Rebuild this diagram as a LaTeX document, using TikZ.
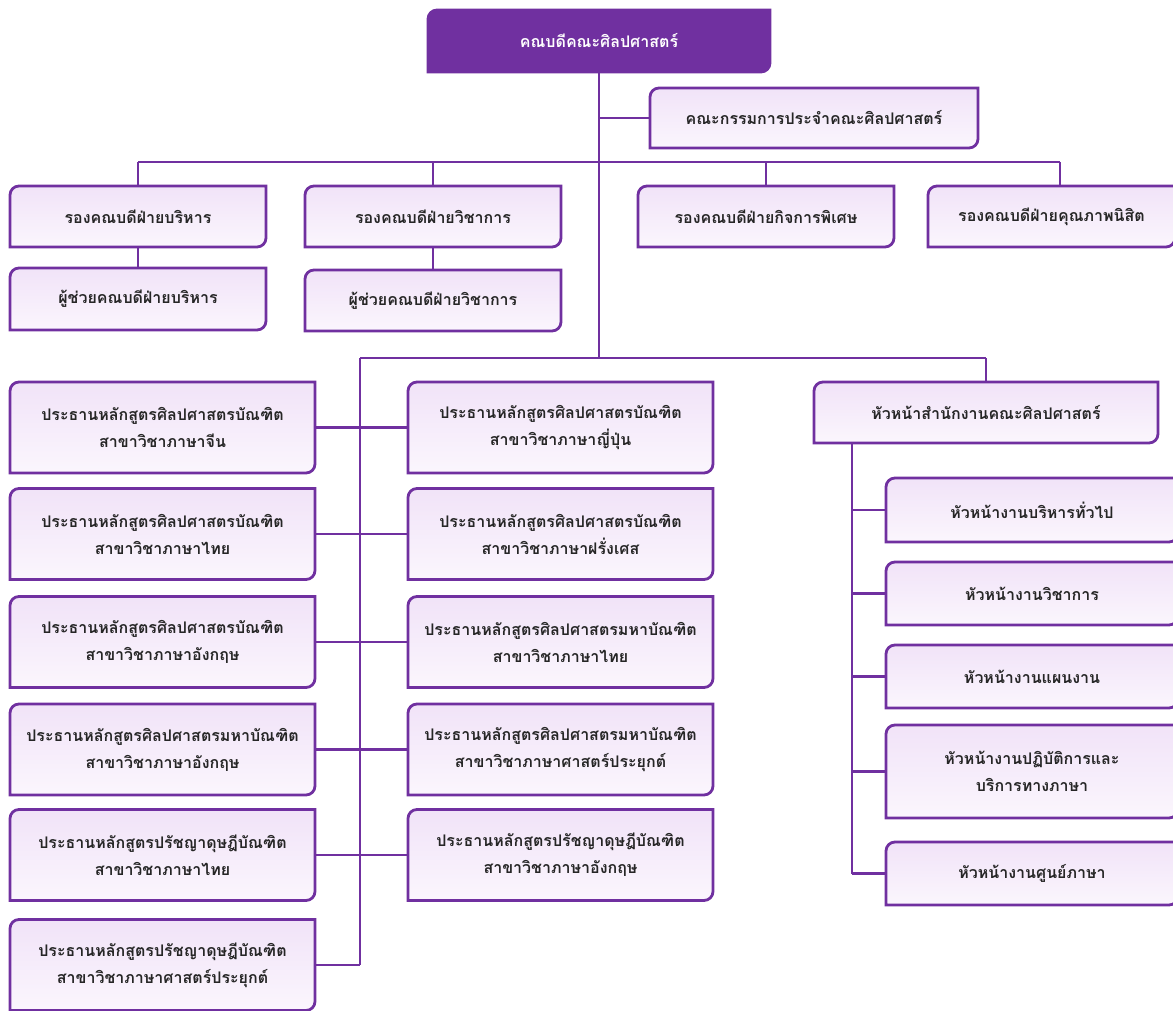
\documentclass[tikz,border=0pt]{standalone}
\usepackage{fontspec}
\setmainfont{Loma}[Script=Thai]
\usetikzlibrary{backgrounds}
\definecolor{orgpurple}{HTML}{7030A0}
\definecolor{boxtop}{HTML}{F1E3F8}
\definecolor{boxbot}{HTML}{FBF6FD}
\definecolor{boxtext}{HTML}{262626}

\begin{document}
\begin{tikzpicture}[x=1pt, y=-1pt]
      \tikzstyle{every node}=[rectangle, inner sep=2pt, outer sep=0pt, align=center,
        text=boxtext, font=\bfseries\fontsize{16}{27}\selectfont]
      \tikzstyle{link}=[draw=orgpurple, line width=2.6pt]
      \tikzstyle{frame}=[draw=orgpurple, line width=2.8pt, top color=boxtop, bottom color=boxbot]
      \useasboundingbox (0,0) rectangle (1173,1011);

      % dean and committee
      \path (599, 41) node[minimum width=342pt, minimum height=62pt, text=white] (dean) {คณบดีคณะศิลปศาสตร์};
      \path (814, 118) node[minimum width=328pt, minimum height=60pt] (board) {คณะกรรมการประจำคณะศิลปศาสตร์};

      % deputy deans
      \foreach \n/\x/\w/\t in {vpadm/138/256/บริหาร, vpaca/433/256/วิชาการ,
                               vpspc/766/256/กิจการพิเศษ, vpqua/1051.5/247/คุณภาพนิสิต}
      {
        \path (\x, 216.5) node[minimum width=\w pt, minimum height=61pt] (\n) {รองคณบดีฝ่าย\t};
      }
      \path (138, 299) node[minimum width=256pt, minimum height=62pt] (asadm) {ผู้ช่วยคณบดีฝ่ายบริหาร};
      \path (433, 300.5) node[minimum width=256pt, minimum height=61pt] (asaca) {ผู้ช่วยคณบดีฝ่ายวิชาการ};

      % programme chairs
      \foreach \i/\y/\d/\f in {1/427.5/ศิลปศาสตรบัณฑิต/ภาษาจีน, 2/534/ศิลปศาสตรบัณฑิต/ภาษาไทย,
                               3/642/ศิลปศาสตรบัณฑิต/ภาษาอังกฤษ, 4/749.5/ศิลปศาสตรมหาบัณฑิต/ภาษาอังกฤษ,
                               5/855/ปรัชญาดุษฎีบัณฑิต/ภาษาไทย, 6/965/ปรัชญาดุษฎีบัณฑิต/ภาษาศาสตร์ประยุกต์}
      {
        \path (162.5, \y) node[minimum width=305pt, minimum height=91pt] (l\i) {ประธานหลักสูตร\d\\สาขาวิชา\f};
      }
      \foreach \i/\y/\d/\f in {1/427.5/ศิลปศาสตรบัณฑิต/ภาษาญี่ปุ่น, 2/534/ศิลปศาสตรบัณฑิต/ภาษาฝรั่งเศส,
                               3/642/ศิลปศาสตรมหาบัณฑิต/ภาษาไทย, 4/749.5/ศิลปศาสตรมหาบัณฑิต/ภาษาศาสตร์ประยุกต์,
                               5/855/ปรัชญาดุษฎีบัณฑิต/ภาษาอังกฤษ}
      {
        \path (560.5, \y) node[minimum width=305pt, minimum height=91pt] (m\i) {ประธานหลักสูตร\d\\สาขาวิชา\f};
      }

      % office
      \path (986, 412.5) node[minimum width=344pt, minimum height=61pt] (office) {หัวหน้าสำนักงานคณะศิลปศาสตร์};
      \foreach \j/\y/\h/\t in {1/510/64/{หัวหน้างานบริหารทั่วไป}, 2/593.5/63/{หัวหน้างานวิชาการ},
                               3/676.5/63/{หัวหน้างานแผนงาน}, 4/771.5/93/{หัวหน้างานปฏิบัติการและ\\บริการทางภาษา},
                               5/873.5/63/{หัวหน้างานศูนย์ภาษา}}
      {
        \path (1032, \y) node[minimum width=292pt, minimum height=\h pt] (r\j) {\t};
      }

      \begin{scope}[on background layer]
        \draw[frame, draw=orgpurple, fill=orgpurple, top color=orgpurple, bottom color=orgpurple]
          ([yshift=-9pt]dean.north west) arc[start angle=180, end angle=90, radius=9pt]
          -- (dean.north east) -- ([yshift=9pt]dean.south east)
          arc[start angle=0, end angle=-90, radius=9pt] -- (dean.south west) -- cycle;
        \foreach \n in {board, vpadm, vpaca, vpspc, vpqua, asadm, asaca,
                        l1, l2, l3, l4, l5, l6, m1, m2, m3, m4, m5,
                        office, r1, r2, r3, r4, r5}
        {
          \draw[frame]
            ([yshift=-9pt]\n.north west) arc[start angle=180, end angle=90, radius=9pt]
            -- (\n.north east) -- ([yshift=9pt]\n.south east)
            arc[start angle=0, end angle=-90, radius=9pt] -- (\n.south west) -- cycle;
        }
      \end{scope}

      \coordinate (trunk) at (599, 358);
      \coordinate (rail) at (599, 162);
      \coordinate (spine) at (360, 965);
      \coordinate (qdrop) at (1060, 162);

      \draw[link]
        (dean) -- (trunk)
        (599, 118) -- (board.west)
        (vpadm.north |- rail) -- (qdrop)
        (vpadm.north |- rail) -- (vpadm.north)
        (vpaca.north |- rail) -- (vpaca.north)
        (vpspc.north |- rail) -- (vpspc.north)
        (qdrop) -- (qdrop |- vpqua.north)
        (vpadm) -- (asadm)
        (vpaca) -- (asaca)
        (360, 358) -- (office.north |- trunk)
        (360, 358) -- (spine)
        (office.north |- trunk) -- (office.north)
        (l6.east) -- (spine);

      \foreach \i in {1, ..., 5}
      {
        \draw[link] (l\i.east) -- (m\i.west);
      }
      \draw[link] (852, 0 |- office.south) -- (852, 0 |- r5.west);
      \foreach \j in {1, ..., 5}
      {
        \draw[link] (r\j.west) -- (852, 0 |- r\j.west);
      }
    \end{tikzpicture}
\end{document}
